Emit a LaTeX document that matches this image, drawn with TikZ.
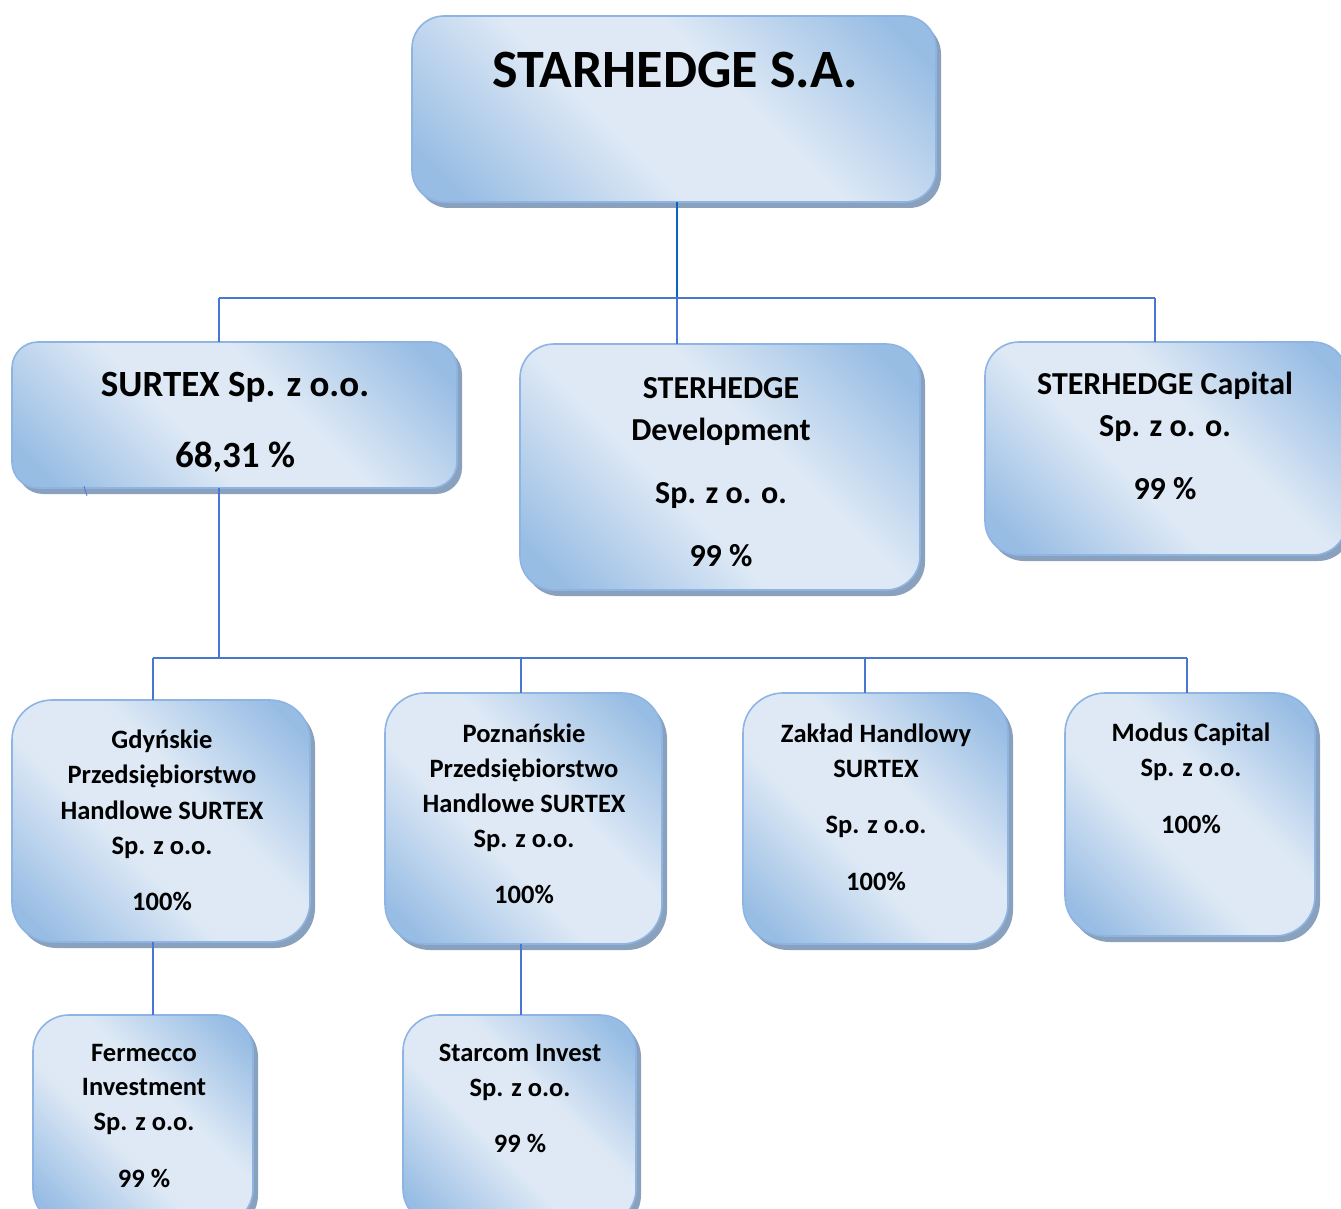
\documentclass[tikz,border=0pt]{standalone}
\usepackage{fontspec}
\setmainfont{Carlito}
\usetikzlibrary{shadows}
\definecolor{bdark}{RGB}{152,189,228}
\definecolor{blight}{RGB}{222,233,245}
\definecolor{bborder}{RGB}{141,180,226}
\definecolor{bshadow}{RGB}{138,161,189}
\definecolor{stemc}{RGB}{10,100,200}
\definecolor{connc}{RGB}{72,118,208}
\pgfdeclareverticalshading{boxshade}{100bp}{color(0bp)=(bdark); color(20bp)=(bdark); color(42bp)=(blight); color(58bp)=(blight); color(80bp)=(bdark); color(100bp)=(bdark)}
\tikzset{
  orgbox/.style={draw=bborder, line width=1.6pt, shading=boxshade, shading angle=-45,
    anchor=north west, inner sep=0pt, outer sep=0pt,
    drop shadow={shadow xshift=5pt, shadow yshift=-6pt, fill=bshadow, opacity=1}},
  conn/.style={draw=connc, line width=1.2pt},
  stem/.style={draw=stemc, line width=1.5pt},
  txt/.style={anchor=base, inner sep=0pt, font=\bfseries},
  big/.style={txt, font=\bfseries\fontsize{54}{60}\selectfont},
  mid/.style={txt, font=\bfseries\fontsize{37}{42}\selectfont},
  med/.style={txt, font=\bfseries\fontsize{32}{38}\selectfont},
  sml/.style={txt, font=\bfseries\fontsize{26.5}{32}\selectfont},
}
\begin{document}
\begin{tikzpicture}[x=1pt,y=-1pt]
\useasboundingbox (0,0) rectangle (1341,1209);
\begin{scope}
\clip (0,0) rectangle (1341,1209);
% boxes
\node[orgbox, rounded corners=32pt, minimum width=524pt, minimum height=186pt] (top) at (412,16) {};
\node[orgbox, rounded corners=26pt, minimum width=445pt, minimum height=146pt] (surtex) at (12,342) {};
\node[orgbox, rounded corners=34pt, minimum width=400pt, minimum height=246pt] (dev) at (520,344) {};
\node[orgbox, rounded corners=34pt, minimum width=362pt, minimum height=213pt] (cap) at (985,342) {};
\node[orgbox, rounded corners=40pt, minimum width=298pt, minimum height=242pt] (gdy) at (12,700) {};
\node[orgbox, rounded corners=40pt, minimum width=277pt, minimum height=251pt] (poz) at (385,693) {};
\node[orgbox, rounded corners=40pt, minimum width=265pt, minimum height=251pt] (zak) at (743,693) {};
\node[orgbox, rounded corners=40pt, minimum width=250pt, minimum height=243pt] (mod) at (1065,693) {};
\node[orgbox, rounded corners=36pt, minimum width=220pt, minimum height=210pt] (fer) at (33,1015) {};
\node[orgbox, rounded corners=36pt, minimum width=233pt, minimum height=210pt] (sta) at (403,1015) {};
\end{scope}
% connector junctions
\coordinate (c1) at (219,298);
\coordinate (c2) at (677,298);
\coordinate (c3) at (1155,298);
\coordinate (d0) at (219,658);
\coordinate (d1) at (153,658);
\coordinate (d2) at (521,658);
\coordinate (d3) at (865,658);
\coordinate (d4) at (1187,658);
\coordinate (tk1) at (84,486);
\coordinate (tk2) at (87,496);
% connectors
\draw[stem] (c2 |- top.south) -- (c2);
\draw[conn] (c1) -- (c3);
\draw[conn] (c1) -- (c1 |- surtex.north);
\draw[conn] (c2) -- (c2 |- dev.north);
\draw[conn] (c3) -- (c3 |- cap.north);
\draw[conn] (d0 |- surtex.south) -- (d0);
\draw[conn] (d1) -- (d4);
\draw[conn] (d1) -- (d1 |- gdy.north);
\draw[conn] (d2) -- (d2 |- poz.north);
\draw[conn] (d3) -- (d3 |- zak.north);
\draw[conn] (d4) -- (d4 |- mod.north);
\draw[conn] (d1 |- gdy.south) -- (d1 |- fer.north);
\draw[conn] (d2 |- poz.south) -- (d2 |- sta.north);
\draw[conn, line width=0.8pt] (tk1) -- (tk2);
% texts
\node[big] (t0) at (675,88) {STARHEDGE S.A.};
\node[mid] (t1a) at (235,396) {SURTEX Sp. z o.o.};
\node[mid] (t1b) at (235,467) {68,31 \%};
\node[med] (t2a) at (721,398) {STERHEDGE};
\node[med] (t2b) at (721,440) {Development};
\node[med] (t2c) at (721,503) {Sp. z o. o.};
\node[med] (t2d) at (721,566) {99 \%};
\node[med] (t3a) at (1165,394) {STERHEDGE Capital};
\node[med] (t3b) at (1165,436) {Sp. z o. o.};
\node[med] (t3c) at (1165,499) {99 \%};
\node[sml] (t4a) at (162,748) {Gdyńskie};
\node[sml] (t4b) at (162,783) {Przedsiębiorstwo};
\node[sml] (t4c) at (162,819) {Handlowe SURTEX};
\node[sml] (t4d) at (162,854) {Sp. z o.o.};
\node[sml] (t4e) at (162,910) {100\%};
\node[sml] (t5a) at (524,742) {Poznańskie};
\node[sml] (t5b) at (524,777) {Przedsiębiorstwo};
\node[sml] (t5c) at (524,812) {Handlowe SURTEX};
\node[sml] (t5d) at (524,847) {Sp. z o.o.};
\node[sml] (t5e) at (524,903) {100\%};
\node[sml] (t6a) at (876,742) {Zakład Handlowy};
\node[sml] (t6b) at (876,777) {SURTEX};
\node[sml] (t6c) at (876,833) {Sp. z o.o.};
\node[sml] (t6d) at (876,890) {100\%};
\node[sml] (t7a) at (1191,741) {Modus Capital};
\node[sml] (t7b) at (1191,776) {Sp. z o.o.};
\node[sml] (t7c) at (1191,833) {100\%};
\node[sml] (t8a) at (144,1061) {Fermecco};
\node[sml] (t8b) at (144,1095) {Investment};
\node[sml] (t8c) at (144,1130) {Sp. z o.o.};
\node[sml] (t8d) at (144,1187) {99 \%};
\node[sml] (t9a) at (520,1061) {Starcom Invest};
\node[sml] (t9b) at (520,1096) {Sp. z o.o.};
\node[sml] (t9c) at (520,1152) {99 \%};
\end{tikzpicture}
\end{document}
